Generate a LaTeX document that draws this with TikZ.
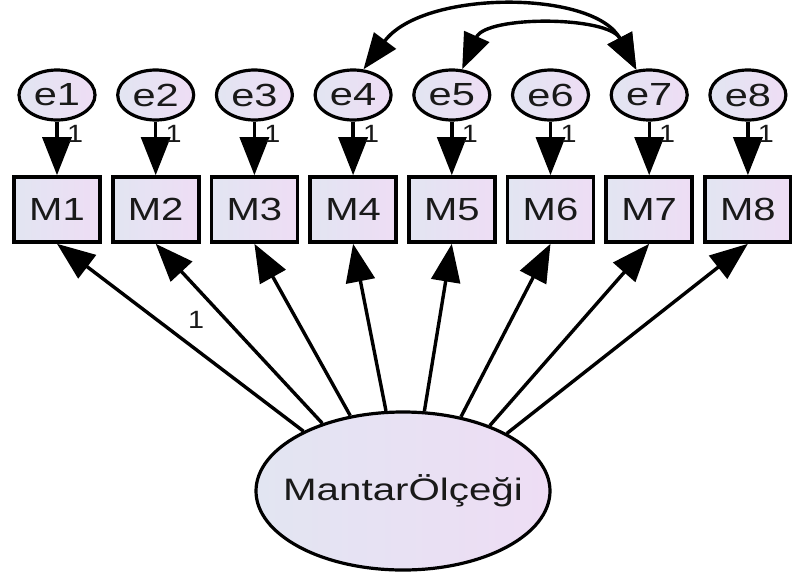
\documentclass[tikz,border=0pt]{standalone}
\usepackage{fontspec}
\setmainfont{Liberation Sans}
\usetikzlibrary{arrows.meta,shapes.geometric}
\definecolor{shadeL}{RGB}{226,229,242}
\definecolor{shadeR}{RGB}{238,221,244}
\definecolor{txtc}{RGB}{25,25,25}
\newcommand\hstretch[2]{\scalebox{#1}[1]{#2}}
\begin{document}
\begin{tikzpicture}[x=1pt,y=-1pt,
  errnode/.style={ellipse, draw, line width=3.2pt, minimum width=76pt, minimum height=50pt,
    inner sep=0pt, left color=shadeL, right color=shadeR, text=txtc,
    font=\fontsize{32}{32}\selectfont},
  obsbox/.style={rectangle, draw, line width=3.6pt, minimum width=86pt, minimum height=65pt,
    inner sep=0pt, left color=shadeL, right color=shadeR, text=txtc,
    font=\fontsize{32}{32}\selectfont},
  latent/.style={ellipse, draw, line width=3.2pt, minimum width=294pt, minimum height=158pt,
    inner sep=0pt, left color=shadeL, right color=shadeR},
  bigtxt/.style={font=\fontsize{31}{31}\selectfont, inner sep=0pt, text=txtc},
  onelbl/.style={font=\fontsize{25}{25}\selectfont, inner sep=0pt, text=txtc},
  arr/.style={line width=3.4pt, -{Triangle[length=38pt,width=29pt]}},
  biarr/.style={line width=3.4pt, {Triangle[length=36pt,width=27pt]}-{Triangle[length=36pt,width=27pt]}},
]
\fill[white] (0,0) rectangle (792,573);
\useasboundingbox (0,0) rectangle (792,573);

\foreach \i/\x in {1/57,2/155.7,3/254.4,4/353.1,5/451.8,6/550.5,7/649.2,8/747.9}{
  \node[errnode] (e\i) at (\x,95) {\hstretch{1.3}{e\i}};
  \node[obsbox] (M\i) at (\x,209.5) {\hstretch{1.25}{M\i}};
  \draw[arr] (e\i.south) -- (M\i.north);
  \node[onelbl] (w\i) at (\x+18,134) {\hstretch{1.15}{1}};
}

\node[latent] (L) at (403,491) {};
\node[bigtxt] (Ltxt) at (L) {\hstretch{1.3}{MantarÖlçeği}};

\foreach \i/\a in {1/149.9,2/140.8,3/125.6,4/102.9,5/75.7,6/52,7/37.2,8/29.2}{
  \draw[arr] (L.\a) -- (M\i.south);
}
\node[onelbl] (lam1) at (196,320) {\hstretch{1.15}{1}};

\draw[biarr] (e4.68) .. controls +(60,-80) and +(-42,-80) .. (e7.117);
\draw[biarr] (e5.68) .. controls +(24,-54) and +(-28,-54) .. (e7.117);
\end{tikzpicture}
\end{document}
